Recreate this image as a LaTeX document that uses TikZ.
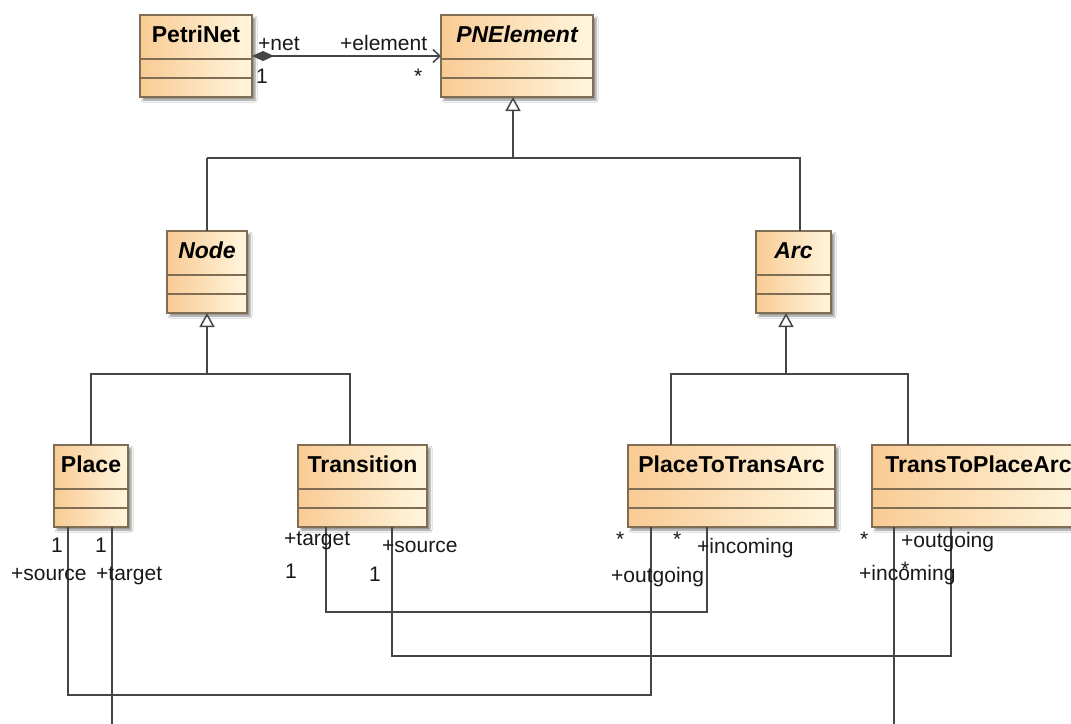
\documentclass[tikz,border=0pt]{standalone}
\usepackage{fontspec}
\setmainfont{Liberation Sans}
\usetikzlibrary{arrows.meta,shadows.blur}

\definecolor{boxleft}{RGB}{249,203,148}
\definecolor{boxright}{RGB}{255,246,222}
\definecolor{boxedge}{RGB}{128,110,84}
\definecolor{linecol}{RGB}{70,70,70}

\tikzset{
  classbox/.style={rectangle, draw=boxedge, line width=1.3pt,
    left color=boxleft, right color=boxright, inner sep=0pt, outer sep=0pt,
    blur shadow={shadow xshift=3pt, shadow yshift=-3pt,
                 shadow blur radius=2pt, shadow opacity=45}},
  compline/.style={draw=boxedge, line width=1.2pt},
  classname/.style={font=\fontsize{23}{27}\selectfont\bfseries, inner sep=0pt},
  role/.style={font=\fontsize{21}{25}\selectfont, inner sep=0pt,
    anchor=base west, text=black!90},
  conn/.style={draw=linecol, line width=1.5pt},
  gen/.style={conn, -{Triangle[open, length=14pt, width=15pt, fill=white]}},
  comp/.style={conn, {Diamond[length=22pt, width=10pt, fill=linecol]}-{Straight Barb[length=7pt, width=13pt]}},
}

% class box: #1 name, #2 left, #3 top, #4 right, #5 bottom, #6 title
\newcommand\umlclass[6]{%
  \node[classbox, minimum width={(#4)-(#2)}, minimum height={(#5)-(#3)}]
    (#1) at ({((#2)+(#4))/2},{((#3)+(#5))/2}) {};
  \draw[compline] ([yshift=-44pt]#1.north west) -- ([yshift=-44pt]#1.north east)
                  ([yshift=-63pt]#1.north west) -- ([yshift=-63pt]#1.north east);
  \node[classname, anchor=base] (#1-name) at ([yshift=-27pt]#1.north) {#6};
}

\begin{document}
\begin{tikzpicture}[x=1pt, y=-1pt]
\useasboundingbox (0,0) rectangle (1071,723);
\fill[white] (0,0) rectangle (1071,723);
\begin{scope}
\clip (0,0) rectangle (1071,723);

% classes
\umlclass{PetriNet}{140}{15}{252}{97}{PetriNet}
\umlclass{PNElement}{441}{15}{593}{97}{\itshape PNElement}
\umlclass{Node}{167}{231}{247}{313}{\itshape Node}
\umlclass{Arc}{756}{231}{831}{313}{\itshape Arc}
\umlclass{Place}{54}{445}{128}{527}{Place}
\umlclass{Transition}{298}{445}{427}{527}{Transition}
\umlclass{PTA}{628}{445}{835}{527}{PlaceToTransArc}
\umlclass{TPA}{872}{445}{1085}{527}{TransToPlaceArc}

% composition PetriNet -> PNElement
\draw[comp] (PetriNet.east) -- (PNElement.west);
\node[role] (netR)  at (258,50) {+net};
\node[role] (elemR) at (340,50) {+element};
\node[role] (netM)  at (256,83) {1};
\node[role] (elemM) at (414,83) {*};

% generalization: Node, Arc -> PNElement
\coordinate (gA) at (513,158);
\coordinate (aA) at (800,158);
\draw[conn] (gA -| Node.north) -- (Node.north);
\draw[conn] (gA -| Node.north) -- (aA) -- (aA |- Arc.north);
\draw[gen] (gA) -- (gA |- PNElement.south);

% generalization: Place, Transition -> Node
\coordinate (gB) at (207,374);
\coordinate (bL) at (91,374);
\coordinate (bR) at (350,374);
\draw[conn] (bL |- Place.north) -- (bL) -- (bR) -- (bR |- Transition.north);
\draw[gen] (gB) -- (gB |- Node.south);

% generalization: PlaceToTransArc, TransToPlaceArc -> Arc
\coordinate (gC) at (786,374);
\coordinate (cL) at (671,374);
\coordinate (cR) at (908,374);
\draw[conn] (cL |- PTA.north) -- (cL) -- (cR) -- (cR |- TPA.north);
\draw[gen] (gC) -- (gC |- Arc.south);

% associations between places, transitions and arcs
\coordinate (a1L) at (68,695);  \coordinate (a1R) at (651,695);
\coordinate (a2L) at (112,760); \coordinate (a2R) at (894,760);
\coordinate (a3L) at (326,612); \coordinate (a3R) at (707,612);
\coordinate (a4L) at (392,656); \coordinate (a4R) at (951,656);
\draw[conn] (a1L |- Place.south) -- (a1L) -- (a1R) -- (a1R |- PTA.south);
\draw[conn] (a2L |- Place.south) -- (a2L) -- (a2R) -- (a2R |- TPA.south);
\draw[conn] (a3L |- Transition.south) -- (a3L) -- (a3R) -- (a3R |- PTA.south);
\draw[conn] (a4L |- Transition.south) -- (a4L) -- (a4R) -- (a4R |- TPA.south);

% role names and multiplicities
\node[role] (plM1) at (51,552)  {1};
\node[role] (plM2) at (95,552)  {1};
\node[role] (plR1) at (11,580)  {+source};
\node[role] (plR2) at (96,580)  {+target};
\node[role] (trR1) at (284,545) {+target};
\node[role] (trR2) at (382,552) {+source};
\node[role] (trM1) at (285,578) {1};
\node[role] (trM2) at (369,581) {1};
\node[role] (ptM1) at (616,546) {*};
\node[role] (ptM2) at (673,546) {*};
\node[role] (ptR1) at (697,553) {+incoming};
\node[role] (ptR2) at (611,582) {+outgoing};
\node[role] (tpM1) at (860,546) {*};
\node[role] (tpR1) at (901,547) {+outgoing};
\node[role] (tpR2) at (859,580) {+incoming};
\node[role] (tpM2) at (901,576) {*};
\end{scope}
\end{tikzpicture}
\end{document}
